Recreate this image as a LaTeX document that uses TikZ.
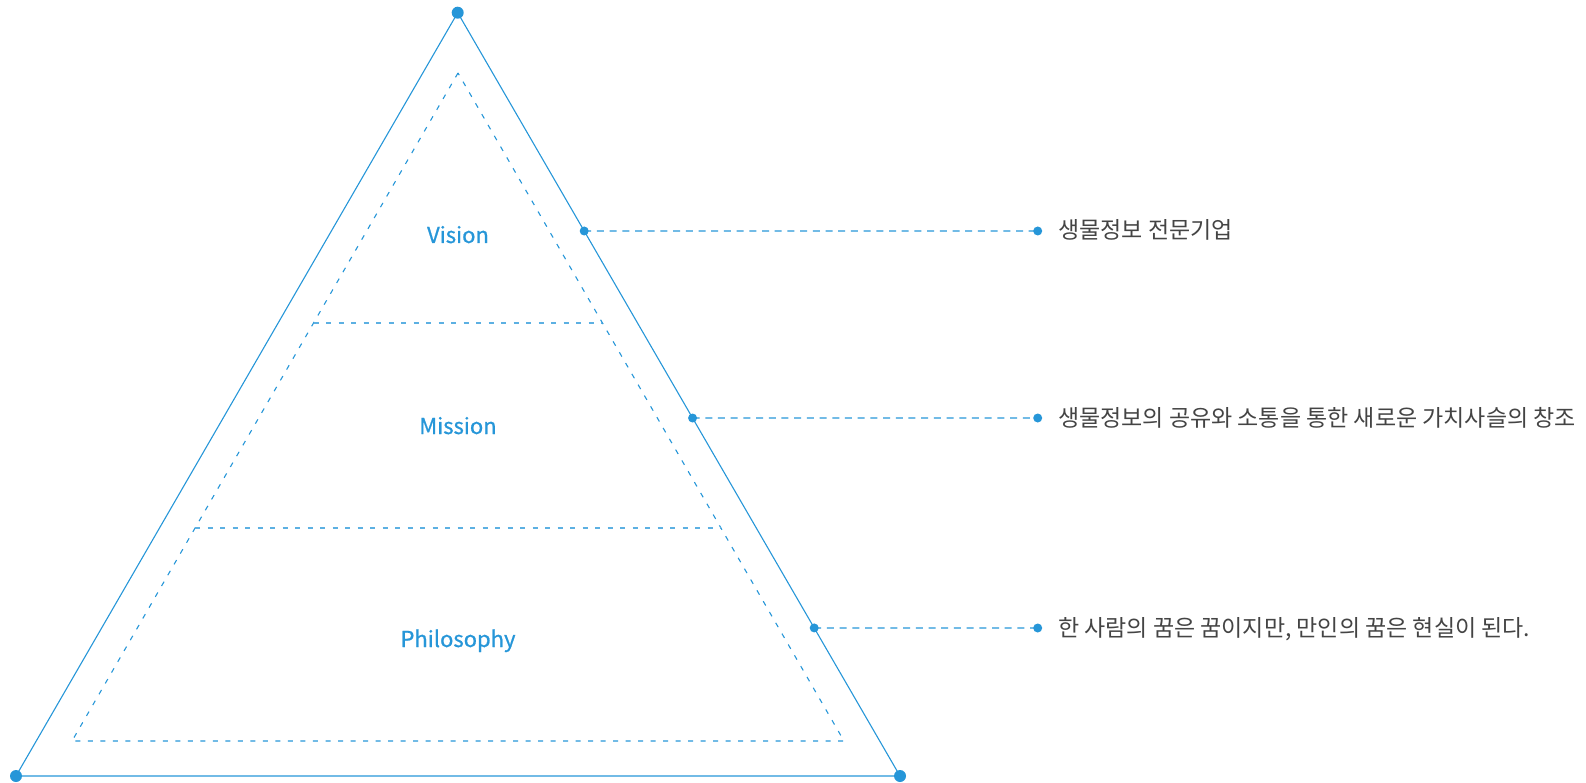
\documentclass[tikz,border=0pt]{standalone}
\usepackage{fontspec}
\setmainfont{Noto Sans CJK KR}
\newfontfamily\labelfont[FakeBold=0.8]{Noto Sans CJK KR}
\usetikzlibrary{calc}
\definecolor{pblue}{RGB}{38,150,216}
\definecolor{tgray}{RGB}{68,68,68}
\begin{document}
\begin{tikzpicture}[x=1pt,y=-1pt,
  bigdot/.style={circle,fill=pblue,inner sep=0,minimum size=12},
  smalldot/.style={circle,fill=pblue,inner sep=0,minimum size=9},
  outline/.style={draw=pblue,line width=1.1},
  innerline/.style={draw=pblue,line width=1.1,dash pattern=on 5 off 7.5},
  divline/.style={draw=pblue!75,line width=1.1,dash pattern=on 5 off 7.5},
  lead/.style={draw=pblue,line width=1.2,dash pattern=on 7 off 5.7},
  tierlabel/.style={text=pblue,font=\labelfont\fontsize{22}{26}\selectfont,anchor=base,inner sep=0},
  desc/.style={text=tgray,font=\fontsize{23}{27}\selectfont,anchor=base west,inner sep=0}]
\useasboundingbox (0,0) rectangle (1586,783);
% outer triangle
\coordinate (A) at (457.7,12.7);
\coordinate (B) at (16,776);
\coordinate (C) at (900,776);
\draw[outline] (A) -- (B) -- (C) -- cycle;
% inner dashed triangle
\coordinate (IA) at (458,73);
\coordinate (IB) at (72,741);
\coordinate (IC) at (844,741);
\draw[innerline] (IA) -- (IB) -- (IC) -- cycle;
% dividers
\coordinate (D1L) at ($(IA)!0.3743!(IB)$);
\coordinate (D1R) at ($(IA)!0.3743!(IC)$);
\coordinate (D2L) at ($(IA)!0.6811!(IB)$);
\coordinate (D2R) at ($(IA)!0.6811!(IC)$);
\draw[divline] (D1L) -- (D1R);
\draw[divline] (D2L) -- (D2R);
% tier labels
\node[tierlabel] (vision) at (458,243) {Vision};
\node[tierlabel] (mission) at (458,434) {Mission};
\node[tierlabel] (philo) at (458,647) {Philosophy};
% leaders
\coordinate (P1) at ($(A)!0.286!(C)$);
\coordinate (P2) at ($(A)!0.531!(C)$);
\coordinate (P3) at ($(A)!0.806!(C)$);
\coordinate (E1) at (1037.7,231);
\coordinate (E2) at (1037.7,418);
\coordinate (E3) at (1037.7,628);
\draw[lead] (P1) -- (E1);
\draw[lead] (P2) -- (E2);
\draw[lead] (P3) -- (E3);
\node[smalldot] (p1) at (P1) {};
\node[smalldot] (p2) at (P2) {};
\node[smalldot] (p3) at (P3) {};
\node[smalldot] (e1) at (E1) {};
\node[smalldot] (e2) at (E2) {};
\node[smalldot] (e3) at (E3) {};
% vertex dots
\node[bigdot] (a) at (A) {};
\node[bigdot] (b) at (B) {};
\node[bigdot] (c) at (C) {};
% descriptions
\node[desc] (t1) at (1058,239) {생물정보 전문기업};
\node[desc] (t2) at (1058,426) {생물정보의 공유와 소통을 통한 새로운 가치사슬의 창조};
\node[desc] (t3) at (1058,636) {한 사람의 꿈은 꿈이지만, 만인의 꿈은 현실이 된다.};
\end{tikzpicture}
\end{document}
